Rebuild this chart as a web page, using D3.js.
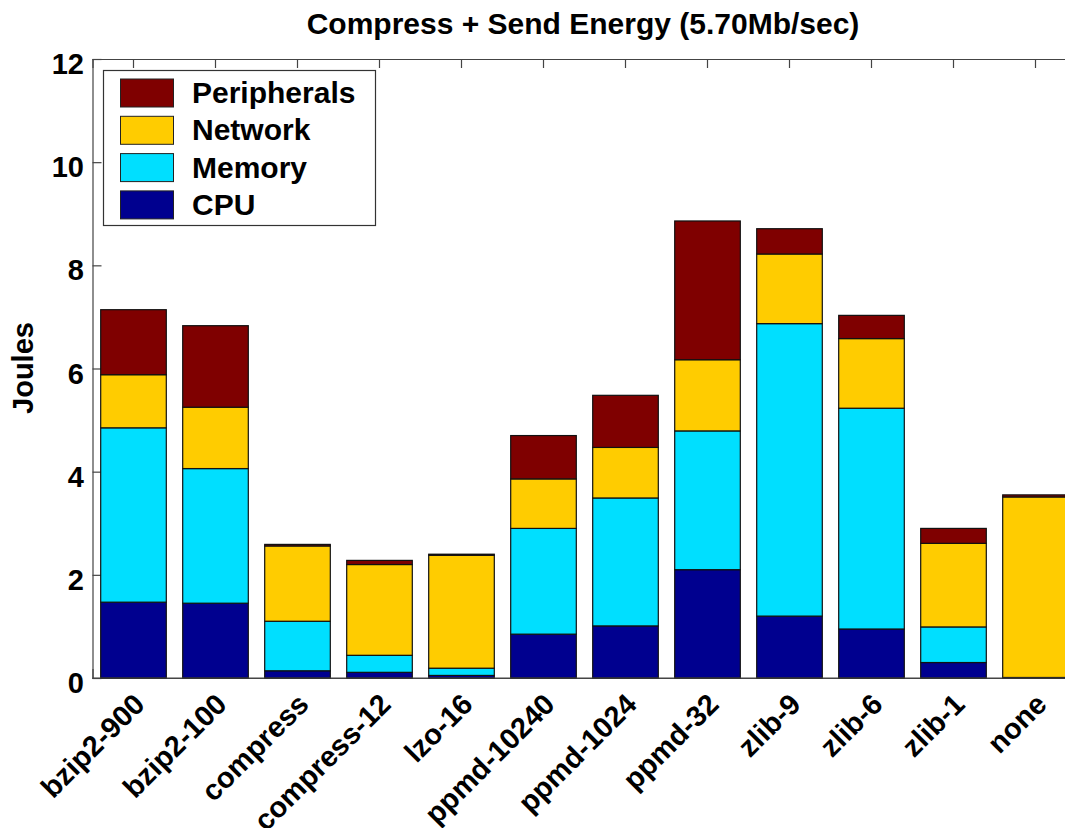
<!DOCTYPE html>
<html>
<head>
<meta charset="utf-8">
<script src="https://cdn.jsdelivr.net/npm/d3@7"></script>
<style>
  html, body { margin: 0; padding: 0; background: #fff; overflow: hidden; }
  text { font-family: "Liberation Sans", Arial, Helvetica, sans-serif; font-weight: bold; fill: #000; }
</style>
</head>
<body>
<svg id="chart" width="1065" height="828"></svg>
<script>
// Compression methods along the x axis
const categories = ["bzip2-900", "bzip2-100", "compress", "compress-12", "lzo-16",
  "ppmd-10240", "ppmd-1024", "ppmd-32", "zlib-9", "zlib-6", "zlib-1", "none"];

// Energy per component, in joules (stacked bottom to top: CPU, Memory, Network, Peripherals)
const cpu         = [1.47, 1.45, 0.14, 0.11, 0.05, 0.85, 1.01, 2.10, 1.20, 0.95, 0.30, 0.01];
const memory      = [3.38, 2.61, 0.96, 0.33, 0.14, 2.05, 2.48, 2.69, 5.67, 4.28, 0.69, 0.00];
const network     = [1.03, 1.19, 1.46, 1.76, 2.19, 0.96, 0.98, 1.38, 1.35, 1.35, 1.62, 3.50];
const peripherals = [1.26, 1.58, 0.03, 0.08, 0.02, 0.84, 1.01, 2.69, 0.49, 0.45, 0.29, 0.04];

const seriesNames = ["CPU", "Memory", "Network", "Peripherals"];
const seriesColors = ["#00008f", "#00dfff", "#ffcc00", "#7f0000"];
const yTicks = [0, 2, 4, 6, 8, 10, 12];

const titleText = "Compress + Send Energy (5.70Mb/sec)";
const yLabel = "Joules";

const svg = d3.select("#chart");
const plot = { left: 92.5, top: 59, bottom: 678, step: 82 };
plot.right = plot.left + plot.step * categories.length;

const x = d3.scaleBand()
  .domain(categories)
  .range([plot.left, plot.right])
  .paddingInner(0.2)
  .paddingOuter(0.1);

const y = d3.scaleLinear().domain([0, 12]).range([plot.bottom, plot.top]);

// Build stacked data
const rows = categories.map((c, i) => ({
  category: c, CPU: cpu[i], Memory: memory[i], Network: network[i], Peripherals: peripherals[i]
}));
const stack = d3.stack().keys(seriesNames)(rows);

const fs = 29;

// Axes (box style, ticks pointing inward)
const axisG = svg.append("g");
const bottomAxis = d3.axisBottom(x).tickSize(-9).tickFormat("");
axisG.append("g").attr("transform", `translate(0,${plot.bottom})`).call(bottomAxis);
const topAxis = d3.axisTop(x).tickSize(-9).tickFormat("");
axisG.append("g").attr("transform", `translate(0,${plot.top})`).call(topAxis);
const leftAxis = d3.axisLeft(y).tickValues(yTicks).tickSize(-9).tickFormat("");
axisG.append("g").attr("transform", `translate(${plot.left},0)`).call(leftAxis);
axisG.selectAll(".domain").attr("stroke", "#444").attr("stroke-width", 1.2);
axisG.selectAll(".tick line").attr("stroke", "#444").attr("stroke-width", 1.2);

// Bars
svg.append("g").selectAll("g")
  .data(stack)
  .join("g")
  .attr("fill", (d, i) => seriesColors[i])
  .selectAll("rect")
  .data(d => d)
  .join("rect")
  .attr("x", d => x(d.data.category))
  .attr("width", x.bandwidth())
  .attr("y", d => y(d[1]))
  .attr("height", d => y(d[0]) - y(d[1]))
  .attr("stroke", "#111")
  .attr("stroke-width", 1.2);

// Redraw the bottom axis line on top of the bars
svg.append("line")
  .attr("x1", plot.left).attr("x2", plot.right)
  .attr("y1", plot.bottom).attr("y2", plot.bottom)
  .attr("stroke", "#444").attr("stroke-width", 1.2);

// Y tick labels
svg.append("g").selectAll("text")
  .data(yTicks)
  .join("text")
  .attr("x", 84)
  .attr("y", d => y(d) + 15)
  .attr("text-anchor", "end")
  .attr("font-size", fs)
  .text(d => d);

// X tick labels, rotated
svg.append("g").selectAll("text")
  .data(categories)
  .join("text")
  .attr("transform", d => `translate(${x(d) + x.bandwidth() / 2 + 13},${plot.bottom + 28}) rotate(-45)`)
  .attr("text-anchor", "end")
  .attr("font-size", fs)
  .text(d => d);

// Title
svg.append("text")
  .attr("x", 583).attr("y", 34)
  .attr("text-anchor", "middle")
  .attr("font-size", 30)
  .text(titleText);

// Y axis label
svg.append("text")
  .attr("transform", `translate(33,368) rotate(-90)`)
  .attr("text-anchor", "middle")
  .attr("font-size", fs)
  .text(yLabel);

// Legend (top entry is Peripherals)
const legend = svg.append("g");
legend.append("rect")
  .attr("x", 103.5).attr("y", 70.5).attr("width", 272).attr("height", 155)
  .attr("fill", "#fff").attr("stroke", "#333").attr("stroke-width", 1.2);
const legendOrder = seriesNames.slice().reverse();
const legendColors = seriesColors.slice().reverse();
legendOrder.forEach((name, i) => {
  const top = 79 + i * 37.3;
  legend.append("rect")
    .attr("x", 120.5).attr("y", top).attr("width", 53).attr("height", 28)
    .attr("fill", legendColors[i]).attr("stroke", "#222").attr("stroke-width", 1);
  legend.append("text")
    .attr("x", 192).attr("y", top + 24)
    .attr("font-size", 30)
    .text(name);
});
</script>
</body>
</html>
